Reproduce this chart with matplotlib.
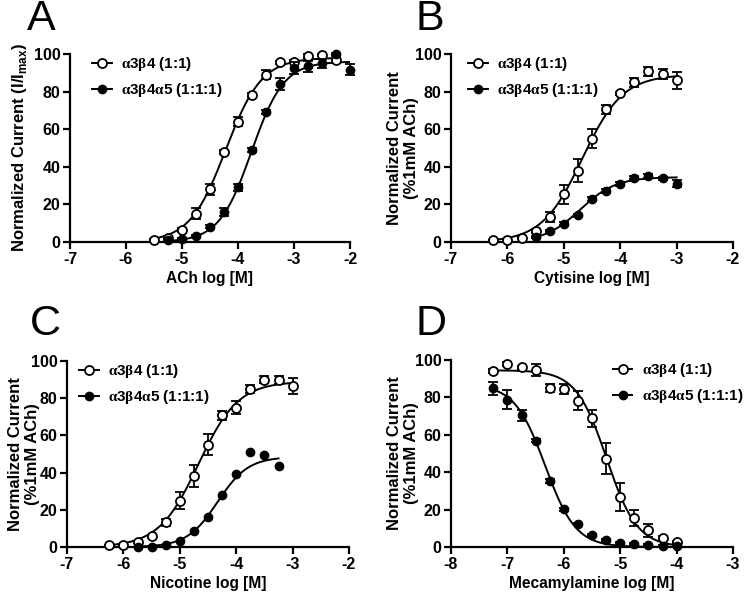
import numpy as np
import matplotlib
matplotlib.use("Agg")
import matplotlib.pyplot as plt

plt.rcParams['font.family'] = ['Liberation Sans', 'DejaVu Sans']
plt.rcParams['font.weight'] = 'bold'
plt.rcParams['mathtext.fontset'] = 'custom'
plt.rcParams['mathtext.rm'] = 'Liberation Serif'
plt.rcParams['mathtext.bf'] = 'Liberation Sans:bold'

# ---------------- data ----------------
# Panel A: ACh
a_open_x = [-5.5, -5.25, -5.0, -4.75, -4.5, -4.25, -4.0, -3.75, -3.5, -3.25, -3.0, -2.75, -2.5, -2.25]
a_open_y = [1.0, 2.3, 6.2, 15.0, 28.0, 48.0, 64.0, 78.0, 89.0, 95.5, 96.0, 99.0, 99.5, 97.0]
a_open_e = [0.5, 0.8, 1.0, 3.0, 3.0, 1.0, 2.5, 1.0, 2.5, 1.0, 1.0, 1.0, 0.5, 2.0]
a_fill_x = [-5.25, -5.0, -4.75, -4.5, -4.25, -4.0, -3.75, -3.5, -3.25, -3.0, -2.75, -2.5, -2.25, -2.0]
a_fill_y = [1.2, 1.6, 3.4, 8.0, 16.0, 29.0, 49.0, 69.0, 84.0, 92.5, 93.5, 95.0, 100.0, 91.6]
a_fill_e = [0.5, 0.5, 0.5, 0.8, 2.0, 2.0, 1.0, 1.0, 3.0, 3.0, 3.0, 2.5, 0.5, 3.0]

# Panel B: Cytisine
b_open_x = [-6.25, -6.0, -5.75, -5.5, -5.25, -5.0, -4.75, -4.5, -4.25, -4.0, -3.75, -3.5, -3.25, -3.0]
b_open_y = [0.9, 1.2, 2.3, 5.9, 13.3, 25.4, 38.0, 55.0, 70.6, 79.0, 85.0, 90.7, 89.3, 86.0]
b_open_e = [0.3, 0.3, 0.5, 1.0, 2.5, 5.0, 6.0, 5.0, 2.5, 1.0, 2.5, 2.5, 2.5, 4.5]
b_fill_x = [-5.5, -5.25, -5.0, -4.75, -4.5, -4.25, -4.0, -3.75, -3.5, -3.25, -3.0]
b_fill_y = [2.7, 5.7, 9.8, 14.2, 22.8, 27.0, 31.0, 34.3, 35.2, 33.8, 31.0]
b_fill_e = [0.5, 0.5, 0.8, 0.8, 1.0, 1.0, 1.0, 1.0, 1.0, 1.0, 2.0]

# Panel C: Nicotine
c_open_x = [-6.25, -6.0, -5.75, -5.5, -5.25, -5.0, -4.75, -4.5, -4.25, -4.0, -3.75, -3.5, -3.25, -3.0]
c_open_y = [0.9, 1.1, 2.7, 5.7, 13.2, 25.0, 38.0, 55.0, 70.7, 75.0, 85.0, 90.0, 89.8, 86.6]
c_open_e = [0.3, 0.3, 0.5, 1.0, 2.0, 4.5, 6.0, 5.5, 2.5, 3.5, 2.0, 2.0, 2.0, 4.5]
c_fill_x = [-5.75, -5.5, -5.25, -5.0, -4.75, -4.5, -4.25, -4.0, -3.75, -3.5, -3.25]
c_fill_y = [0.0, 0.2, 1.0, 3.2, 8.6, 16.3, 28.0, 39.5, 51.2, 49.5, 43.6]

# Panel D: Mecamylamine
d_open_x = [-7.25, -7.0, -6.75, -6.5, -6.25, -6.0, -5.75, -5.5, -5.25, -5.0, -4.75, -4.5, -4.25, -4.0]
d_open_y = [94.1, 98.0, 96.0, 94.7, 84.9, 84.5, 78.3, 68.9, 47.3, 26.9, 15.5, 8.9, 4.8, 2.5]
d_open_e = [1.0, 1.0, 1.0, 3.0, 2.0, 2.5, 5.0, 4.5, 8.5, 7.5, 4.5, 3.5, 1.0, 0.5]
d_fill_x = [-7.25, -7.0, -6.75, -6.5, -6.25, -6.0, -5.75, -5.5, -5.25, -5.0, -4.75, -4.5, -4.25, -4.0]
d_fill_y = [84.9, 78.8, 70.5, 56.9, 35.1, 20.1, 12.5, 6.6, 3.6, 2.1, 1.6, 1.1, 0.7, 0.4]
d_fill_e = [3.5, 5.0, 3.0, 1.0, 1.0, 1.0, 0.5, 0.5, 0.5, 0.5, 0.5, 0.3, 0.3, 0.3]

# Hill fit parameters: (top, logEC50, nH)
a_open_fit = (98.0, -4.22, 1.35)
a_fill_fit = (96.0, -3.76, 1.5)
b_open_fit = (89.0, -4.67, 1.21)
b_fill_fit = (34.5, -4.71, 1.38)
c_open_fit = (89.0, -4.67, 1.23)
c_fill_fit = (48.5, -4.33, 1.6)
d_open_fit = (94.5, -5.24, 1.6)   # inhibition
d_fill_fit = (87.0, -6.33, 1.6)   # inhibition

label_open = r'$\mathrm{\alpha}$3$\mathrm{\beta}$4 (1:1)'
label_fill = r'$\mathrm{\alpha}$3$\mathrm{\beta}$4$\mathrm{\alpha}$5 (1:1:1)'

W, H = 745, 593
FS = 11.5      # tick labels
FSX = 11.2     # x labels
FSY = 12.0     # y labels
FSL = 11.0     # legend
fig = plt.figure(figsize=(W / 100, H / 100), dpi=100)


def px_axes(l, t, r, b):
    return fig.add_axes([l / W, 1 - b / H, (r - l) / W, (b - t) / H])


def hill(x, p, inhib=False):
    top, ec, n = p
    if inhib:
        return top / (1 + 10 ** ((x - ec) * n))
    return top / (1 + 10 ** ((ec - x) * n))


def draw(ax, ox, oy, oe, fx, fy, fe, pf_open, pf_fill, inhib, xlim, xlabel, leg_x):
    xs = np.linspace(min(ox), max(ox), 300)
    ax.plot(xs, hill(xs, pf_open, inhib), color='black', lw=1.4, zorder=2)
    xs2 = np.linspace(min(fx), max(fx), 300)
    ax.plot(xs2, hill(xs2, pf_fill, inhib), color='black', lw=1.4, zorder=2)
    ax.errorbar(ox, oy, yerr=oe, fmt='o', mfc='white', mec='black', mew=1.3,
                ms=6.5, ecolor='black', elinewidth=1.3, capsize=3.5, capthick=1.3,
                zorder=3, clip_on=False)
    if fe is not None:
        ax.errorbar(fx, fy, yerr=fe, fmt='o', mfc='black', mec='black', ms=6.0,
                    ecolor='black', elinewidth=1.3, capsize=3.5, capthick=1.3,
                    zorder=4, clip_on=False)
    else:
        ax.plot(fx, fy, 'o', mfc='black', mec='black', ms=6.0, zorder=4, clip_on=False)
    h1, = ax.plot([], [], '-o', color='black', mfc='white', mec='black', mew=1.3, ms=6.5, lw=1.4)
    h2, = ax.plot([], [], '-o', color='black', mfc='black', ms=6.0, lw=1.4)
    ax.legend([h1, h2], [label_open, label_fill], loc='upper left',
              bbox_to_anchor=(leg_x, 0.995), frameon=False,
              fontsize=FSL, handlelength=1.3, handletextpad=0.6, labelspacing=0.55,
              borderaxespad=0.0, borderpad=0.0)
    ax.set_xlim(*xlim)
    ax.set_ylim(0, 100)
    ticks = np.arange(xlim[0], xlim[1] + 1, 1)
    ax.set_xticks(ticks)
    ax.set_xticklabels([str(int(v)) for v in ticks])
    ax.set_yticks([0, 20, 40, 60, 80, 100])
    for s in ['top', 'right']:
        ax.spines[s].set_visible(False)
    for s in ['left', 'bottom']:
        ax.spines[s].set_linewidth(1.6)
    ax.tick_params(direction='out', length=5, width=1.6, labelsize=FS, pad=2)
    for t in ax.get_xticklabels() + ax.get_yticklabels():
        t.set_fontweight('bold')
    ax.set_xlabel(xlabel, fontsize=FSX, fontweight='bold', labelpad=3)


def ylab(text, xpx, ax_top, ax_bot):
    fig.text(xpx / W, 1 - ((ax_top + ax_bot) / 2) / H, text, rotation=90,
             ha='center', va='center', multialignment='center',
             fontsize=FSY, fontweight='bold', linespacing=1.1)


axA = px_axes(70, 54, 350, 242)
draw(axA, a_open_x, a_open_y, a_open_e, a_fill_x, a_fill_y, a_fill_e,
     a_open_fit, a_fill_fit, False, (-7, -2), 'ACh log [M]', 0.078)
ylab(r'Normalized Current (I/I$_{\mathbf{max}}$)', 20, 54, 242)

axB = px_axes(451, 54, 733, 242)
draw(axB, b_open_x, b_open_y, b_open_e, b_fill_x, b_fill_y, b_fill_e,
     b_open_fit, b_fill_fit, False, (-7, -2), 'Cytisine log [M]', 0.06)
ylab('Normalized Current\n(%1mM ACh)', 403, 54, 242)

axC = px_axes(67, 361, 349, 547)
draw(axC, c_open_x, c_open_y, c_open_e, c_fill_x, c_fill_y, None,
     c_open_fit, c_fill_fit, False, (-7, -2), 'Nicotine log [M]', 0.042)
ylab('Normalized Current\n(%1mM ACh)', 24, 361, 547)

axD = px_axes(451, 360, 733, 547)
draw(axD, d_open_x, d_open_y, d_open_e, d_fill_x, d_fill_y, d_fill_e,
     d_open_fit, d_fill_fit, True, (-8, -3), 'Mecamylamine log [M]', 0.573)
ylab('Normalized Current\n(%1mM ACh)', 403, 360, 547)

for lab, x, y in [('A', 27, -1), ('B', 416, -1), ('C', 30, 304), ('D', 416, 304)]:
    fig.text(x / W, 1 - y / H, lab, fontsize=31, fontweight='normal', va='top', ha='left')

fig.savefig('out.png', dpi=100)
